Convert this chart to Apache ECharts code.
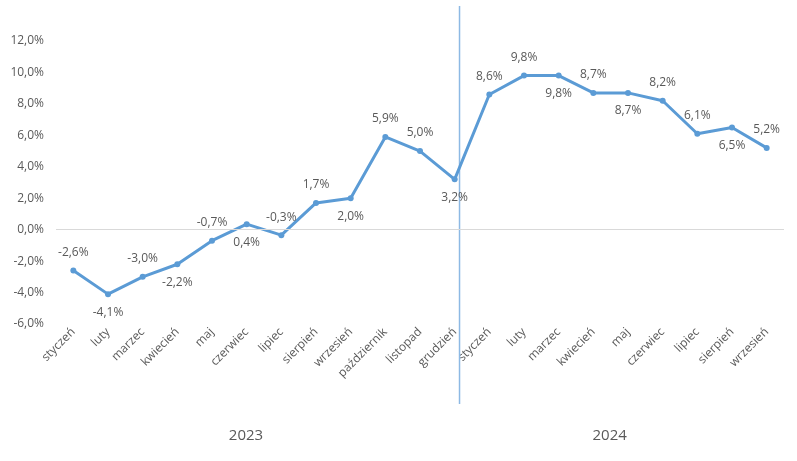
<!DOCTYPE html>
<html><head><meta charset="utf-8">
<script src="https://cdn.jsdelivr.net/npm/echarts@6/dist/echarts.min.js"></script>
<style>html,body{margin:0;padding:0;background:#fff}#c{width:797px;height:461px}</style>
</head><body><div id="c"></div>
<script>
const months = ['styczeń','luty','marzec','kwiecień','maj','czerwiec','lipiec','sierpień','wrzesień','październik','listopad','grudzień',
                'styczeń','luty','marzec','kwiecień','maj','czerwiec','lipiec','sierpień','wrzesień'];
const years = ['2023','2024'];
const values = [-2.6,-4.1,-3.0,-2.2,-0.7,0.35,-0.35,1.7,2.0,5.9,5.0,3.2,
                8.6,9.8,9.8,8.7,8.7,8.2,6.1,6.5,5.2];
const valueLabels = ['-2,6%','-4,1%','-3,0%','-2,2%','-0,7%','0,4%','-0,3%','1,7%','2,0%','5,9%','5,0%','3,2%',
                     '8,6%','9,8%','9,8%','8,7%','8,7%','8,2%','6,1%','6,5%','5,2%'];
const yTicks = {min:-6, max:12, interval:2};

const labelSide = ['top','bottom','top','bottom','top','bottom','top','top','bottom','top','top','bottom',
                   'top','top','bottom','top','bottom','top','top','bottom','top'];
const FONT = '"Open Sans", sans-serif';
const GRAY = '#595959';

const chart = echarts.init(document.getElementById('c'));
const option = {
  animation:false,
  grid:{left:56, right:13, top:41, bottom:137, containLabel:false},
  xAxis:[{
    type:'category', data:months, boundaryGap:true,
    axisLine:{show:false,onZero:false}, axisTick:{show:false},
    axisLabel:{rotate:45, interval:0, color:GRAY, fontFamily:FONT, fontSize:12, margin:6}
  },{
    type:'value', min:-0.5, max:months.length-0.5, show:false
  }],
  yAxis:{
    type:'value', min:yTicks.min, max:yTicks.max, interval:yTicks.interval,
    axisLine:{show:false}, axisTick:{show:false}, splitLine:{show:false},
    axisLabel:{color:GRAY, fontFamily:FONT, fontSize:12, margin:12,
      formatter:v=>v.toFixed(1).replace('.',',')+'%'}
  },
  series:[{
    type:'line',
    data:values.map((v,i)=>({value:v,label:{position:labelSide[i]}})),
    lineStyle:{color:'#5B9BD5',width:3},
    itemStyle:{color:'#5B9BD5'},
    symbol:'circle', symbolSize:6,
    label:{show:true, color:GRAY, fontFamily:FONT, fontSize:12, distance:9,
      formatter:p=>valueLabels[p.dataIndex]},
    markLine:{silent:true, symbol:'none', label:{show:false},
      lineStyle:{color:'#d9d9d9', type:'solid', width:1},
      data:[{yAxis:0}]},
    z:3
  }]
};
chart.setOption(option);

function addGraphics(){
  const px = v => chart.convertToPixel({xAxisIndex:1}, v);
  const divX = px(11.14);
  chart.setOption({graphic:[
    {type:'line', shape:{x1:divX,y1:6,x2:divX,y2:404}, style:{stroke:'#8DB9E4', lineWidth:1.5}, z:1},
    {type:'text', x:px(4.98), y:436, style:{text:years[0], fill:GRAY, font:'15px '+FONT, align:'center', verticalAlign:'middle'}},
    {type:'text', x:px(15.47), y:436, style:{text:years[1], fill:GRAY, font:'15px '+FONT, align:'center', verticalAlign:'middle'}}
  ]});
}
addGraphics();
</script></body></html>
